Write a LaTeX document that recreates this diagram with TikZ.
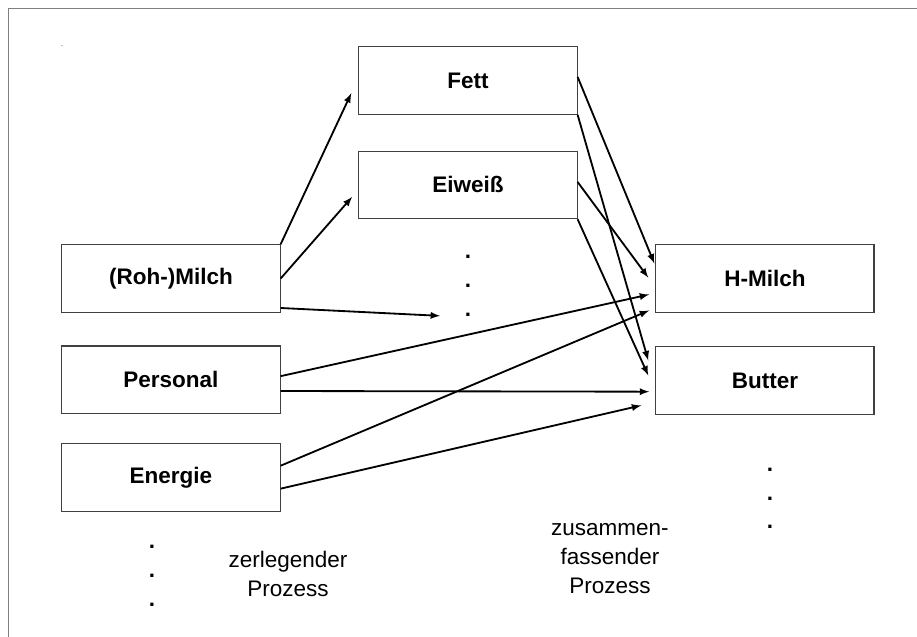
\documentclass[tikz,border=0pt]{standalone}
\usepackage{fontspec}
\setmainfont{Liberation Sans}
\usepackage{tikz}
\usetikzlibrary{calc, arrows, positioning}
\tikzset{
    shapenode/.style = {draw=black!75, line width=0.8pt, rectangle, fill=none, node distance=0em,
      minimum width=9.7em, minimum height=3em, font=\bfseries},
    textnode/.style  = {draw=none, fill=none, rectangle, inner sep=0em, node distance=0em, align=center},
    dotsnode/.style  = {textnode, font=\bfseries},
    connect/.style = {black, -latex, line width=1.3pt}
}

\begin{document}
\fontsize{16}{20.5}\selectfont
\begin{tikzpicture}
    \node [shapenode, name=Milch] {(Roh-)Milch};
    \useasboundingbox ($(Milch)+(-7.6em,-15.89em)$) rectangle ($(Milch)+(33.16em,12.38em)$);
    \draw [black!50, line width=0.8pt] ($(Milch)+(-7.24em,12.02em)$) rectangle ($(Milch)+(34em,-17em)$);
    \node [textnode, name=tinydot, above of=Milch, xshift=-4.84em, yshift=10.33em] {\tiny .};

    \node [shapenode, name=Personal, below of=Milch, yshift=-4.5em] {Personal};
    \node [shapenode, name=Energie, below of=Personal, yshift=-4.35em] {Energie};
    \node [dotsnode, name=dotsL, below of=Energie, xshift=-0.84em, yshift=-4.36em] {.\\.\\.};
    \node [textnode, name=zerlegend, below of=Energie, xshift=5.2em, yshift=-4.27em] {zerlegender\\Prozess};

    \node [shapenode, name=Fett, right of=Milch, xshift=13.2em, yshift=8.8em] {Fett};
    \node [shapenode, name=Eiweiss, below of=Fett, yshift=-4.64em] {Eiweiß};
    \node [dotsnode, name=dotsM, below of=Eiweiss, yshift=-4.49em] {.\\.\\.};

    \node [shapenode, name=HMilch, right of=Milch, xshift=26.4em] {H-Milch};
    \node [shapenode, name=Butter, below of=HMilch, yshift=-4.53em] {Butter};
    \node [dotsnode, name=dotsR, below of=Butter, xshift=0.22em, yshift=-5.24em] {.\\.\\.};
    \node [textnode, name=zusammen, below of=Butter, xshift=-6.89em, yshift=-7.91em] {zusammen-\\fassender\\Prozess};

    \draw (Milch.north east) edge[connect] ($(Fett.west)+(-0.31em,-0.56em)$);
    \draw (Milch.east) edge[connect] ($(Eiweiss.west)+(-0.27em,-0.53em)$);
    \draw ($(Milch.east)+(0,-1.31em)$) edge[connect] ($(dotsM)+(-1.24em,-1.33em)$);
    \draw ($(Personal.east)+(0,0.16em)$) edge[connect] ($(HMilch.west)+(-0.27em,-0.71em)$);
    \draw ($(Personal.east)+(0,-0.5em)$) edge[connect] ($(Butter.west)+(-0.27em,-0.5em)$);
    \draw ($(Energie.east)+(0,0.53em)$) edge[connect] ($(HMilch.west)+(-0.27em,-1.42em)$);
    \draw ($(Energie.east)+(0,-0.49em)$) edge[connect] ($(Butter.west)+(-0.62em,-1.11em)$);

    \draw ($(Fett.east)+(0,0.16em)$) edge[connect] ($(HMilch.west)+(-0.04em,0.67em)$);
    \draw (Fett.south east) edge[connect] ($(Butter.west)+(-0.31em,0.89em)$);
    \draw ($(Eiweiss.east)+(0,0.13em)$) edge[connect] ($(HMilch.west)+(-0.31em,0.04em)$);
    \draw (Eiweiss.south east) edge[connect] ($(Butter.west)+(-0.31em,0.22em)$);
\end{tikzpicture}
\end{document}
